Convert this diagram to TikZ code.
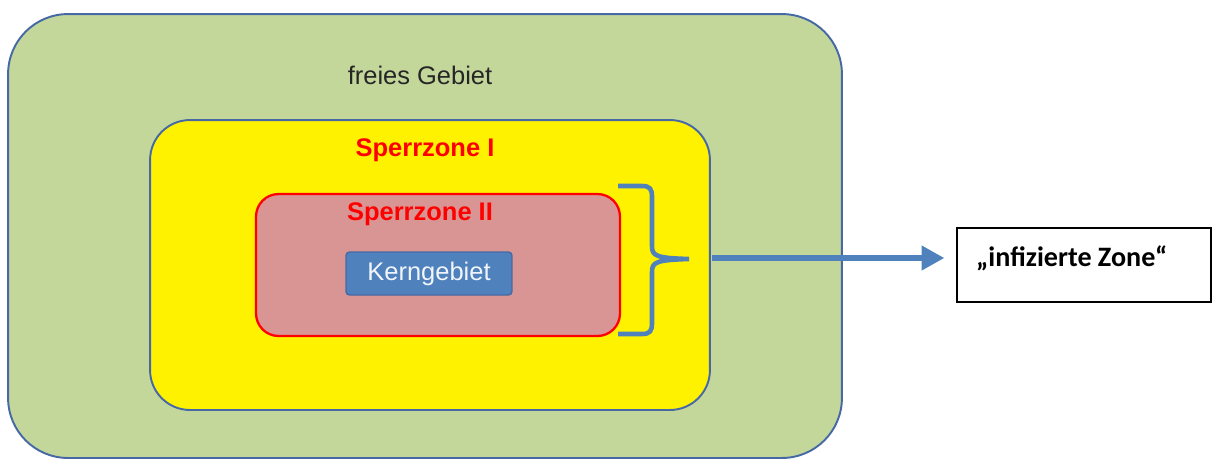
\documentclass[tikz,border=0pt]{standalone}
\usepackage{fontspec}
\setmainfont{Liberation Sans}
\newfontfamily\calibri{Carlito}
\usetikzlibrary{arrows.meta}
\definecolor{gebietgruen}{RGB}{196,215,155}
\definecolor{randblau}{RGB}{70,105,165}
\definecolor{kernblau}{RGB}{79,129,189}
\definecolor{zonerosa}{RGB}{217,149,148}

\begin{document}
\begin{tikzpicture}[x=0.02cm, y=-0.02cm,
  zone/.style={draw, rectangle, inner sep=0pt},
  zonetext/.style={font=\fontsize{14.5}{17}\selectfont\bfseries, text=red},
  klammerlinie/.style={draw=kernblau, line width=2.6pt},
  pfeil/.style={draw=kernblau, line width=3pt, -{Triangle[length=13pt,width=13.5pt]}}]
\useasboundingbox (0,0) rectangle (1212,461);
\node[zone, fill=gebietgruen, draw=randblau, line width=1.1pt, rounded corners=1.2cm,
  minimum width=16.68cm, minimum height=8.88cm] (frei) at (425,236) {};
\node[zone, fill=yellow, draw=randblau, line width=1.1pt, rounded corners=0.8cm,
  minimum width=11.2cm, minimum height=5.8cm] (sperr1) at (430,265) {};
\node[zone, fill=zonerosa, draw=red, line width=1.3pt, rounded corners=0.45cm,
  minimum width=7.28cm, minimum height=2.84cm] (sperr2) at (438,265) {};
\node[zone, fill=kernblau, draw=randblau, line width=0.8pt, rounded corners=2pt,
  minimum width=3.32cm, minimum height=0.86cm] (kern) at (429,273.5) {};
\node[font=\fontsize{14.5}{17}\selectfont, text=black!85] (freitext) at (420,75) {freies Gebiet};
\node[zonetext] (sperr1text) at (425,150) {Sperrzone I};
\node[zonetext] (sperr2text) at (420,214) {Sperrzone II};
\node[font=\fontsize{14.5}{17}\selectfont, text=white!92!kernblau] (kerntext) at (kern) {Kerngebiet};
\node[zone, draw=black, line width=0.8pt, fill=white,
  minimum width=5.08cm, minimum height=1.48cm] (infiziert) at (1084,265) {};
\node[anchor=west, font=\calibri\fontsize{16}{19}\selectfont\bfseries] (infiziertext) at (970,258) {„infizierte Zone“};
\draw[klammerlinie] (618,186) -- (642,186) .. controls (650,186) and (652,189) .. (652,197)
  -- (652,246) .. controls (652,256) and (656,258) .. (689,259)
  .. controls (656,260) and (652,262) .. (652,272)
  -- (652,323) .. controls (652,331) and (650,334) .. (642,334) -- (618,334);
\coordinate (klammer) at (712,258);
\draw[pfeil] (klammer) -- ([xshift=-0.24cm]infiziert.west |- klammer);
\end{tikzpicture}
\end{document}
